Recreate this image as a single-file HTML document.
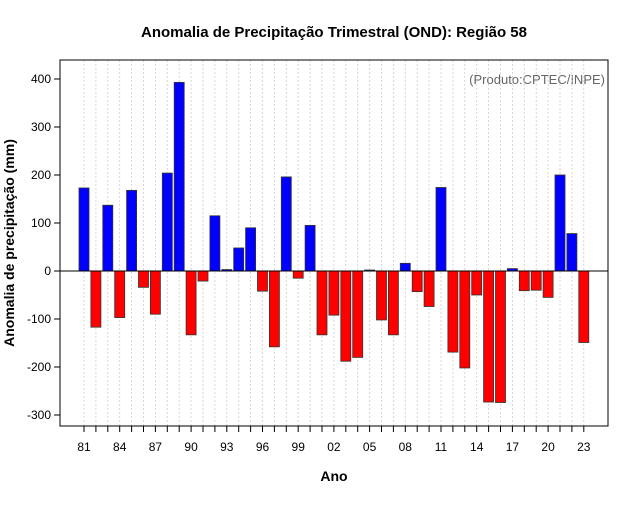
<!DOCTYPE html>
<html><head><meta charset="utf-8"><style>
body{margin:0;background:#fff;}
svg text{font-family:"Liberation Sans",sans-serif;}
</style></head><body>
<svg width="640" height="500">
<text x="334" y="37" text-anchor="middle" font-size="15" font-weight="bold">Anomalia de Precipitação Trimestral (OND): Região 58</text>
<text x="334" y="481" text-anchor="middle" font-size="14" font-weight="bold">Ano</text>
<text transform="translate(14,243) rotate(-90)" text-anchor="middle" font-size="14" font-weight="bold">Anomalia de precipitação (mm)</text>
<text x="605" y="84" text-anchor="end" font-size="13" fill="#666">(Produto:CPTEC/INPE)</text>
<g id="grid"></g><g id="bars"></g><g id="axes"></g>
<rect x="60" y="60" width="548" height="366" fill="none" stroke="#000"/>
</svg>
<script>
const years=[81,82,83,84,85,86,87,88,89,90,91,92,93,94,95,96,97,98,99,0,1,2,3,4,5,6,7,8,9,10,11,12,13,14,15,16,17,18,19,20,21,22,23];
const values=[173,-117,137,-97,168,-34,-90,204,393,-133,-21,115,3,48,90,-42,-158,196,-15,95,-133,-92,-188,-180,2,-102,-133,16,-43,-74,174,-169,-202,-50,-273,-274,5,-41,-40,-55,200,78,-149];
const yTicks=[-300,-200,-100,0,100,200,300,400];
const xLabelEvery=3;
const NS="http://www.w3.org/2000/svg";
const x=i=>84+i*11.9;
const y=v=>271-v*0.48;
const grid=document.getElementById('grid'),bars=document.getElementById('bars'),axes=document.getElementById('axes');
function mk(tag,attrs,parent){const e=document.createElementNS(NS,tag);for(const k in attrs)e.setAttribute(k,attrs[k]);parent.appendChild(e);return e;}
years.forEach((yr,i)=>{
  const g=mk('line',{x1:x(i),x2:x(i),y1:60,y2:426,stroke:'#ccc','stroke-dasharray':'2,2','stroke-width':0.8},grid);
  
  
  const t=mk('line',{x1:x(i),x2:x(i),y1:426,y2:432,stroke:'#000'},axes);
  
  
  if(i%xLabelEvery===0){
    const l=mk('text',{x:x(i),y:451,'text-anchor':'middle','font-size':12},axes);
    l.textContent=String(yr).padStart(2,'0');
    
    
  }
  const v=values[i];
  const b=mk('rect',{x:x(i)-5,y:Math.min(y(v),y(0)),width:10,height:Math.abs(y(v)-y(0)),fill:v>=0?'#0000ff':'#ff0000',stroke:'#333','stroke-width':0.8},bars);
  
  
});
const z=mk('line',{x1:60,x2:608,y1:y(0),y2:y(0),stroke:'#000'},axes);


yTicks.forEach(v=>{
  const t=mk('line',{x1:54,x2:60,y1:y(v),y2:y(v),stroke:'#000'},axes);
  
  
  const l=mk('text',{x:51,y:y(v)+4,'text-anchor':'end','font-size':12},axes);
  l.textContent=v;
  
  
});
</script>
</body></html>
